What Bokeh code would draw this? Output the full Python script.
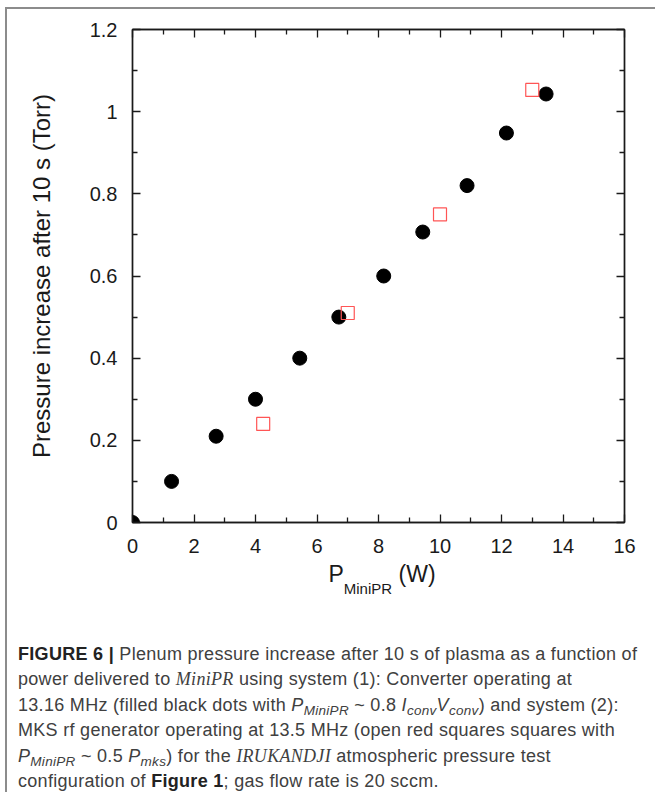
from bokeh.plotting import figure
from bokeh.models import Range1d, FixedTicker, LinearAxis, Div
from bokeh.layouts import column
from bokeh.embed import file_html
from bokeh.resources import INLINE

# --- data ---
conv_power = [0.0, 1.27, 2.72, 4.0, 5.44, 6.71, 8.17, 9.44, 10.88, 12.16, 13.45]
conv_pressure = [0.0, 0.10, 0.21, 0.30, 0.40, 0.50, 0.60, 0.707, 0.82, 0.948, 1.043]
mks_power = [4.25, 7.0, 10.0, 13.0]
mks_pressure = [0.24, 0.51, 0.75, 1.053]

x_major = [0, 2, 4, 6, 8, 10, 12, 14, 16]
x_minor = [1, 3, 5, 7, 9, 11, 13, 15]
y_major = [0.0, 0.2, 0.4, 0.6, 0.8, 1.0, 1.2]
y_labels = ["0", "0.2", "0.4", "0.6", "0.8", "1", "1.2"]
y_minor = [0.1, 0.3, 0.5, 0.7, 0.9, 1.1]

y_title = "Pressure increase after 10 s (Torr)"

FONT = "Liberation Sans"
INK = "#1a1a1a"

p = figure(width=646, height=551, x_range=Range1d(0, 16), y_range=Range1d(0, 1.2),
           output_backend="svg", toolbar_location=None,
           min_border_left=125, min_border_right=29, min_border_top=20, min_border_bottom=38)
p.grid.visible = False
p.outline_line_color = INK
p.outline_line_width = 1.4
p.background_fill_color = "white"
p.border_fill_color = "white"

def style_axis(ax):
    ax.axis_line_color = INK
    ax.axis_line_width = 1.4
    ax.major_tick_line_color = INK
    ax.minor_tick_line_color = INK
    ax.major_tick_line_width = 1.3
    ax.minor_tick_line_width = 1.3
    ax.major_tick_in = 8
    ax.major_tick_out = 0
    ax.minor_tick_in = 5
    ax.minor_tick_out = 0
    ax.major_label_text_font = FONT
    ax.major_label_text_font_size = "20px"
    ax.major_label_text_color = INK

p.xaxis.ticker = FixedTicker(ticks=x_major, minor_ticks=x_minor)
p.yaxis.ticker = FixedTicker(ticks=y_major, minor_ticks=y_minor)
p.yaxis.major_label_overrides = {v: s for v, s in zip(y_major, y_labels)}
style_axis(p.xaxis[0])
style_axis(p.yaxis[0])
p.xaxis.major_label_standoff = 16
p.yaxis.major_label_standoff = 15

p.yaxis.axis_label = y_title
p.yaxis.axis_label_text_font = FONT
p.yaxis.axis_label_text_font_size = "24px"
p.yaxis.axis_label_text_font_style = "normal"
p.yaxis.axis_label_text_color = INK
p.yaxis.axis_label_standoff = 32

top = LinearAxis(ticker=FixedTicker(ticks=x_major, minor_ticks=x_minor))
style_axis(top)
top.major_label_overrides = {v: "" for v in x_major}
top.major_label_standoff = 0
p.add_layout(top, "above")
right = LinearAxis(ticker=FixedTicker(ticks=y_major, minor_ticks=y_minor))
style_axis(right)
right.major_label_overrides = {v: "" for v in y_major}
right.major_label_standoff = 0
p.add_layout(right, "right")

p.scatter(conv_power, conv_pressure, marker="circle", size=14, color="black")
p.scatter(mks_power, mks_pressure, marker="square", size=13, fill_color=None,
          line_color="#ff5555", line_width=1.2)

xlabel = Div(width=646, height=40, text=(
    '<div style="box-sizing:border-box; width:646px; padding-left:94px; text-align:center; '
    'white-space:nowrap; font-family:\'Liberation Sans\'; color:#1a1a1a; line-height:18px;">'
    '<span style="font-size:23px;">P</span>'
    '<span style="font-size:15px; position:relative; top:12px;">MiniPR</span>'
    '<span style="font-size:23px;"> (W)</span></div>'))

cap_style = ("font-family:'Liberation Sans'; font-size:18px; letter-spacing:0.3px; color:#404040; "
             "line-height:25.4px; white-space:nowrap; padding-left:6px; padding-top:27px;")
it = "font-family:'Liberation Serif'; font-style:italic;"
sub = "font-size:0.75em; line-height:0; vertical-align:-0.3em;"
caption = Div(width=646, height=182, text=(
    f'<div style="{cap_style}">'
    '<b style="color:#222">FIGURE 6 |</b> Plenum pressure increase after 10 s of plasma as a function of<br>'
    f'power delivered to <span style="{it}">MiniPR</span> using system (1): Converter operating at<br>'
    f'13.16 MHz (filled black dots with <i>P<span style="{sub}">MiniPR</span></i> ~ 0.8 '
    f'<i>I<span style="{sub}">conv</span>V<span style="{sub}">conv</span></i>) and system (2):<br>'
    'MKS rf generator operating at 13.5 MHz (open red squares squares with<br>'
    f'<i>P<span style="{sub}">MiniPR</span></i> ~ 0.5 <i>P<span style="{sub}">mks</span></i>) for the '
    f'<span style="{it}">IRUKANDJI</span> atmospheric pressure test<br>'
    'configuration of <b style="color:#222">Figure 1</b>; gas flow rate is 20 sccm.'
    '</div>'))

layout = column(p, xlabel, caption,
                styles={"border-top": "2px solid #8c8c8c", "border-left": "2px solid #8c8c8c",
                        "margin-left": "5px", "margin-top": "7px", "background": "white"})

open("out.html", "w").write(file_html(layout, INLINE))
